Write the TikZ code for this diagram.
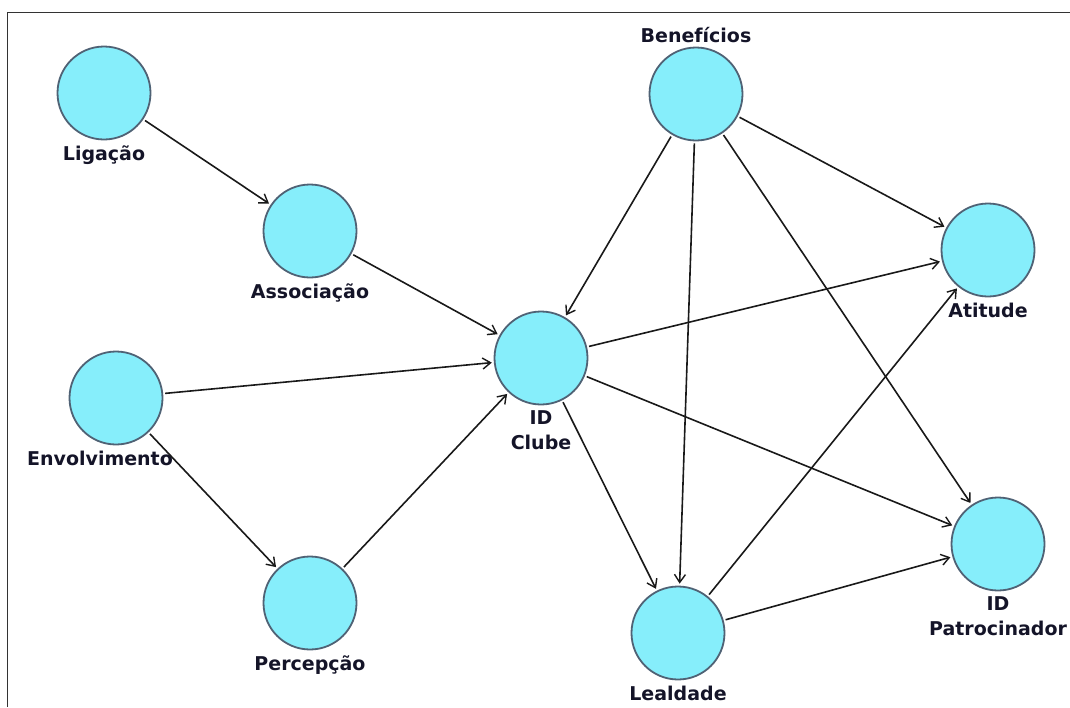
\documentclass[tikz,border=0pt]{standalone}
\usepackage{fontspec}
\setmainfont{DejaVu Sans}
\usetikzlibrary{arrows.meta,positioning}
\definecolor{varfill}{HTML}{86EEFB}
\definecolor{varline}{HTML}{4F6275}
\definecolor{vartext}{HTML}{141428}
\tikzset{var/.style={circle,draw=varline,fill=varfill,line width=1.8pt,minimum size=93pt,inner sep=0pt},
lbl/.style={font=\fontsize{19}{25}\selectfont\bfseries,text=vartext,inner sep=0pt,align=center},
rel/.style={-{Straight Barb[length=8pt,width=11pt,line width=1.4pt]},line width=1.6pt,draw=black!90,shorten >=2pt,shorten <=2pt}}

\begin{document}
\begin{tikzpicture}[x=1pt,y=-1pt]
\useasboundingbox (0,0) rectangle (1070,707);
\draw[line width=1.5pt,black!80] (7.5,707) -- (7.5,12.5) -- (1070,12.5);

% variables
\node[var,label={[lbl,label distance=5pt]below:Ligação}] (lig) at (104,93) {};
\node[var,label={[lbl,label distance=5pt]below:Associação}] (asc) at (310,231) {};
\node[var,label={[lbl,label distance=5pt,xshift=-16pt]below:Envolvimento}] (env) at (116,398) {};
\node[var,label={[lbl,label distance=5pt]below:Percepção}] (per) at (310,603) {};
\node[var,label={[lbl,label distance=5pt]below:ID\\Clube}] (clube) at (541,358) {};
\node[var,label={[lbl,label distance=4pt]above:Benefícios}] (ben) at (696,94) {};
\node[var,label={[lbl,label distance=5pt]below:Atitude}] (ati) at (988,250) {};
\node[var,label={[lbl,label distance=5pt]below:ID\\Patrocinador}] (pat) at (998,544) {};
\node[var,label={[lbl,label distance=5pt]below:Lealdade}] (leal) at (678,633) {};

% relations
\draw[rel] (lig) -- (asc);
\draw[rel] (asc) -- (clube);
\draw[rel] (env) -- (clube);
\draw[rel] (env) -- (per);
\draw[rel] (per) -- (clube);
\draw[rel] (ben) -- (clube);
\draw[rel] (ben) -- (leal);
\draw[rel] (ben) -- (ati);
\draw[rel] (ben) -- (pat);
\draw[rel] (clube) -- (ati);
\draw[rel] (clube) -- (pat);
\draw[rel] (clube) -- (leal);
\draw[rel] (leal) -- (ati);
\draw[rel] (leal) -- (pat);
\end{tikzpicture}
\end{document}
